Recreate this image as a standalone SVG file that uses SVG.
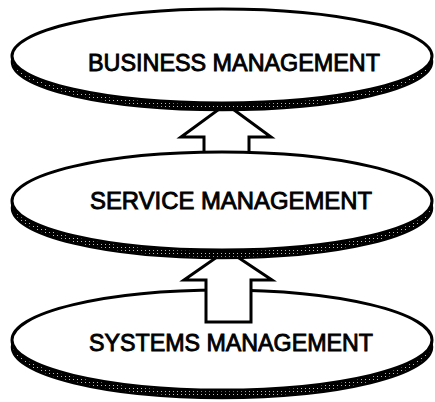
<svg xmlns="http://www.w3.org/2000/svg" width="435" height="402" viewBox="0 0 435 402">
<defs>
<pattern id="stip" width="4" height="3" patternUnits="userSpaceOnUse">
<rect width="4" height="3" fill="#000"/>
<rect x="1" y="1" width="1" height="1" fill="#bbb"/>
</pattern>
<style>
.band{fill:url(#stip);stroke:#000;stroke-width:2.5}
.top{fill:#fff;stroke:#000;stroke-width:3}
.lbl{font-family:"Liberation Sans",Arial,sans-serif;font-size:24px;fill:#000;text-anchor:middle;stroke:#000;stroke-width:0.9}
.arrow{fill:#fff;stroke:#000;stroke-width:3;stroke-linejoin:miter}
</style>
</defs>
<rect width="435" height="402" fill="#fff"/>
<g id="systems">
<ellipse class="band" cx="222" cy="347" rx="210" ry="51"/>
<ellipse class="top" cx="222" cy="340" rx="210" ry="50"/>
<text class="lbl" x="231" y="351" textLength="284" lengthAdjust="spacingAndGlyphs">SYSTEMS MANAGEMENT</text>
</g>
<g id="connectors">
<path id="arrow-systems-service" class="arrow" d="M227,250 L272,280 L251,280 L251,322 L206,322 L206,280 L184,280 Z"/>
<path id="arrow-service-business" class="arrow" d="M226,104 L271,137 L249,137 L249,180 L204,180 L204,137 L181,137 Z"/>
</g>
<g id="service">
<ellipse class="band" cx="222" cy="208" rx="210" ry="50"/>
<ellipse class="top" cx="222" cy="201" rx="210" ry="49"/>
<text class="lbl" x="231" y="209" textLength="282" lengthAdjust="spacingAndGlyphs">SERVICE MANAGEMENT</text>
</g>
<g id="business">
<ellipse class="band" cx="222" cy="62" rx="210" ry="48"/>
<ellipse class="top" cx="222" cy="56" rx="210" ry="47"/>
<text class="lbl" x="234" y="71" textLength="292" lengthAdjust="spacingAndGlyphs">BUSINESS MANAGEMENT</text>
</g>
</svg>
